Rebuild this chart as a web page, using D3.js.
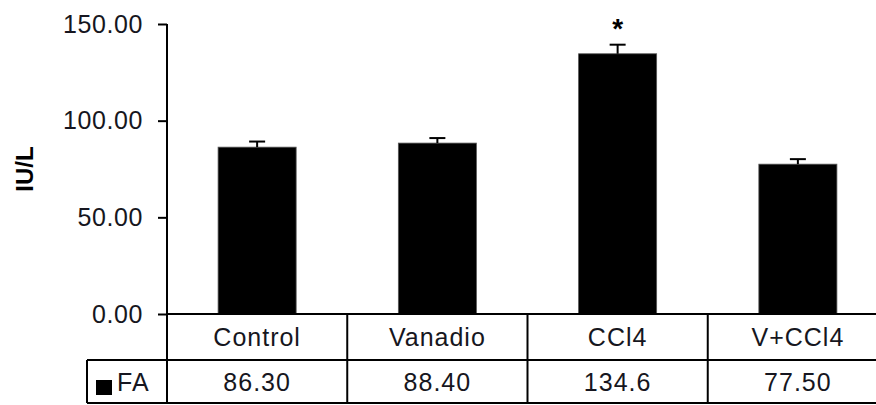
<!DOCTYPE html>
<html>
<head>
<meta charset="utf-8">
<script src="https://cdn.jsdelivr.net/npm/d3@7"></script>
<style>
  html, body { margin: 0; padding: 0; background: #fff; }
  svg { display: block; }
  text { font-family: "Liberation Sans", Arial, sans-serif; fill: #161620; }
</style>
</head>
<body>
<svg id="chart" width="876" height="405"></svg>
<script>
// Serum enzyme activity by treatment group
const categories = ["Control", "Vanadio", "CCl4", "V+CCl4"];
const faValues = [86.30, 88.40, 134.6, 77.50];
const faLabels = ["86.30", "88.40", "134.6", "77.50"];
const faErrors = [2.9, 2.6, 4.7, 2.6];
const significant = [false, false, true, false];
const yTicks = [0, 50, 100, 150];
const seriesName = "FA";
const yTitle = "IU/L";

const svg = d3.select("#chart");

const x = d3.scaleBand()
  .domain(categories)
  .range([167, 888])
  .paddingInner(0.567)
  .paddingOuter(0.2835);

const y = d3.scaleLinear().domain([0, 150]).range([314, 24]);

// bars
svg.append("g").selectAll("rect")
  .data(categories)
  .join("rect")
  .attr("x", d => x(d))
  .attr("width", x.bandwidth())
  .attr("y", (d, i) => y(faValues[i]))
  .attr("height", (d, i) => y(0) - y(faValues[i]))
  .attr("fill", "#000")
  .attr("stroke", "#555")
  .attr("stroke-width", 0.8);

// error bars (upper whisker only)
const eb = svg.append("g").attr("stroke", "#000").attr("stroke-width", 2);
categories.forEach((c, i) => {
  const cx = x(c) + x.bandwidth() / 2;
  eb.append("line")
    .attr("x1", cx).attr("x2", cx)
    .attr("y1", y(faValues[i])).attr("y2", y(faValues[i] + faErrors[i]));
  eb.append("line")
    .attr("x1", cx - 8).attr("x2", cx + 8)
    .attr("y1", y(faValues[i] + faErrors[i])).attr("y2", y(faValues[i] + faErrors[i]));
});

// significance marker
svg.append("g").selectAll("text")
  .data(categories.filter((c, i) => significant[i]))
  .join("text")
  .attr("x", d => x(d) + x.bandwidth() / 2)
  .attr("y", 38)
  .attr("text-anchor", "middle")
  .attr("font-size", 28)
  .attr("font-weight", "bold")
  .style("fill", "#000")
  .text("*");

// y axis
const yAxis = d3.axisLeft(y)
  .tickValues(yTicks)
  .tickFormat(d3.format(".2f"))
  .tickSize(9)
  .tickPadding(15);

const ga = svg.append("g").attr("transform", "translate(167,0)").call(yAxis);
ga.select(".domain").attr("stroke", "#000").attr("stroke-width", 2)
  .attr("d", `M0,${y(150)}V${y(0)}`);
ga.selectAll(".tick line").attr("stroke", "#000").attr("stroke-width", 2);
ga.selectAll(".tick text")
  .attr("font-size", 25)
  .attr("letter-spacing", "0.6px")
  .style("font-family", '"Liberation Sans", Arial, sans-serif')
  .style("fill", "#161620");

// y title
svg.append("text")
  .attr("transform", `translate(33,${(y(0) + y(150)) / 2}) rotate(-90)`)
  .attr("text-anchor", "middle")
  .attr("font-size", 24)
  .attr("font-weight", "bold")
  .style("fill", "#000")
  .text(yTitle);

// data table below the plot
const rowTop = y(0), rowMid = 360, rowBot = 403;
const leftEdge = 87, tableRight = 888;
const tg = svg.append("g").attr("stroke", "#000").attr("stroke-width", 2).attr("fill", "none");

tg.append("line").attr("x1", 167).attr("x2", tableRight).attr("y1", rowTop).attr("y2", rowTop);
tg.append("line").attr("x1", leftEdge).attr("x2", tableRight).attr("y1", rowMid).attr("y2", rowMid);
tg.append("line").attr("x1", leftEdge).attr("x2", tableRight).attr("y1", rowBot).attr("y2", rowBot);
tg.append("line").attr("x1", leftEdge).attr("x2", leftEdge).attr("y1", rowMid).attr("y2", rowBot);

const step = x.step();
const cellEdges = [167].concat(categories.map(c => x(c) - x.step() * x.paddingInner() / 2 + step));
cellEdges.forEach(e => {
  tg.append("line").attr("x1", e).attr("x2", e).attr("y1", rowTop).attr("y2", rowBot);
});

const centerOf = c => x(c) + x.bandwidth() / 2;

svg.append("g").selectAll("text")
  .data(categories)
  .join("text")
  .attr("x", centerOf)
  .attr("y", (rowTop + rowMid) / 2)
  .attr("dy", "0.36em")
  .attr("text-anchor", "middle")
  .attr("font-size", 25)
  .attr("letter-spacing", "1px")
  .text(d => d);

svg.append("g").selectAll("text")
  .data(categories)
  .join("text")
  .attr("x", centerOf)
  .attr("y", (rowMid + rowBot) / 2)
  .attr("dy", "0.36em")
  .attr("text-anchor", "middle")
  .attr("font-size", 25)
  .attr("letter-spacing", "1px")
  .text((d, i) => faLabels[i]);

// legend key inside the table
svg.append("rect")
  .attr("x", 96).attr("y", 380).attr("width", 16).attr("height", 15)
  .attr("fill", "#000");
svg.append("text")
  .attr("x", 117)
  .attr("y", (rowMid + rowBot) / 2)
  .attr("dy", "0.36em")
  .attr("font-size", 25)
  .attr("letter-spacing", "1px")
  .text(seriesName);
</script>
</body>
</html>
